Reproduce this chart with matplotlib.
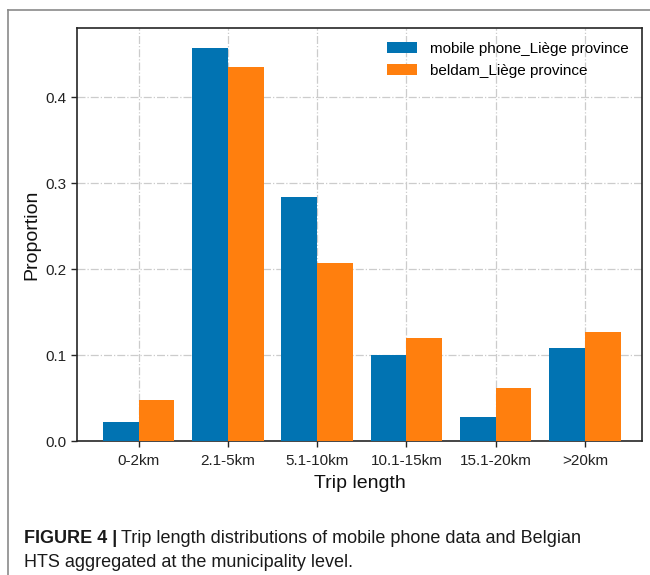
import matplotlib
matplotlib.use("Agg")
import matplotlib.pyplot as plt
import numpy as np
from matplotlib.lines import Line2D

categories = ["0-2km", "2.1-5km", "5.1-10km", "10.1-15km", "15.1-20km", ">20km"]
mobile_phone = [0.022, 0.457, 0.284, 0.100, 0.028, 0.108]
beldam = [0.048, 0.435, 0.207, 0.120, 0.062, 0.127]
series_labels = ["mobile phone_Liège province", "beldam_Liège province"]
y_ticks = [0.0, 0.1, 0.2, 0.3, 0.4]

plt.rcParams['font.family'] = ['Liberation Sans', 'DejaVu Sans']

fig = plt.figure(figsize=(6.5, 5.75), dpi=100)
ax = fig.add_axes([0.1185, 0.2323, 0.8692, 0.7185])

x = np.arange(len(categories))
w = 0.4
ax.bar(x - w / 2, mobile_phone, width=w, color="#0173b2", label=series_labels[0], zorder=3)
ax.bar(x + w / 2, beldam, width=w, color="#ff7f0e", label=series_labels[1], zorder=3)

ax.set_xticks(x)
ax.set_xticklabels(categories, fontsize=11, color="#222222")
ax.set_yticks(y_ticks)
ax.set_yticklabels([f"{v:.1f}" for v in y_ticks], fontsize=11, color="#222222")
ax.set_ylim(0, 0.48)
ax.set_xlim(-0.69, 5.64)

ax.set_xlabel("Trip length", fontsize=14, color="#111111", labelpad=5)
ax.set_ylabel("Proportion", fontsize=14, color="#111111", labelpad=4)

ax.grid(True, linestyle="-.", color="#cccccc", linewidth=0.9, zorder=0)
ax.set_axisbelow(True)
for s in ax.spines.values():
    s.set_linewidth(1.2)
    s.set_color("#262626")
ax.tick_params(direction="out", length=4, width=1.0, color="#262626")
ax.tick_params(axis="x", pad=5)

ax.legend(loc="upper right", frameon=False, fontsize=11)

# outer frame lines
fig.add_artist(Line2D([8 / 650, 1.0], [1 - 10 / 575, 1 - 10 / 575], color="#8a8a8a", linewidth=1.2,
                      transform=fig.transFigure))
fig.add_artist(Line2D([8 / 650, 8 / 650], [0.0, 1 - 10 / 575], color="#8a8a8a", linewidth=1.2,
                      transform=fig.transFigure))

# caption
t1 = fig.text(24 / 650, 1 - 543 / 575, "FIGURE 4 |", fontsize=13, fontweight="bold",
              color="#1a1a1a", va="baseline", ha="left")
fig.canvas.draw()
bb = t1.get_window_extent()
x2 = (bb.x1 + 4) / fig.bbox.width
fig.text(x2, 1 - 543 / 575, "Trip length distributions of mobile phone data and Belgian",
         fontsize=13, color="#1a1a1a", va="baseline", ha="left")
fig.text(24 / 650, 1 - 567 / 575, "HTS aggregated at the municipality level.",
         fontsize=13, color="#1a1a1a", va="baseline", ha="left")

fig.savefig("out.png", dpi=100)
